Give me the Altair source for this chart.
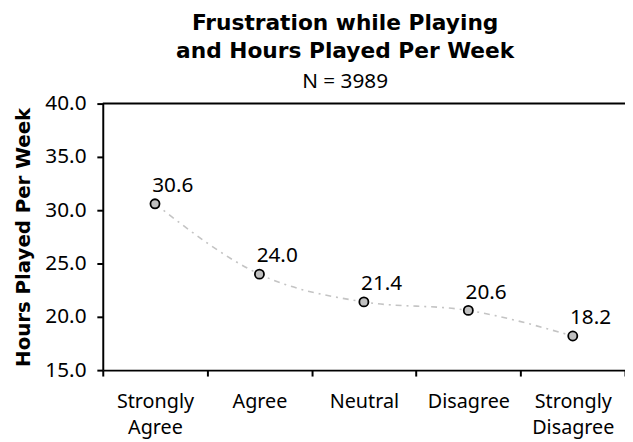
import altair as alt
import pandas as pd

categories = ["Strongly Agree", "Agree", "Neutral", "Disagree", "Strongly Disagree"]
hours = [30.6, 24.0, 21.4, 20.6, 18.2]
y_ticks = [15, 20, 25, 30, 35, 40]

df = pd.DataFrame({"response": categories, "hours": hours})
df["label"] = [f"{v:.1f}" for v in hours]
top_df = pd.DataFrame({"top": [40]})

FONT = "Noto Sans"
BOLD = "DejaVu Sans"
W, H = 529, 270

x = alt.X(
    "response:N",
    sort=categories,
    scale=alt.Scale(type="band", paddingInner=0, paddingOuter=0),
    axis=alt.Axis(
        title=None, tickBand="extent", labelAngle=0,
        labelExpr="split(datum.label, ' ')", labelLineHeight=26,
        labelFont=FONT, labelFontSize=20, labelColor="black", labelPadding=16,
        tickSize=6, tickWidth=2, tickColor="black",
        domainWidth=2, domainColor="black",
    ),
)
y = alt.Y(
    "hours:Q",
    scale=alt.Scale(domain=[15, 40], nice=False, zero=False),
    axis=alt.Axis(
        values=y_ticks, format=".1f", grid=False,
        title="Hours Played Per Week", titleFont=BOLD, titleFontSize=20,
        titleFontWeight="bold", titleColor="black", titlePadding=12,
        labelFont=FONT, labelFontSize=21, labelColor="black", labelPadding=11,
        tickSize=6, tickWidth=2, tickColor="black",
        domainWidth=2, domainColor="black",
    ),
)

base = alt.Chart(df)

line = base.mark_line(
    interpolate="monotone", color="#c4c4c4", strokeWidth=1.6, strokeDash=[6, 5, 2, 5]
).encode(x=x, y=y)

points = base.mark_point(
    shape="circle", filled=True, fill="#c0c0c0", stroke="black",
    strokeWidth=1.8, size=85, opacity=1,
).encode(x=x, y=y)

labels = base.mark_text(
    font=FONT, fontSize=21, color="black", align="center",
    baseline="alphabetic", dx=18, dy=-12,
).encode(x=x, y=y, text="label:N")

top_rule = alt.Chart(top_df).mark_rule(color="black", strokeWidth=2).encode(
    y=alt.Y("top:Q"), x=alt.value(0), x2=alt.value(W)
)

chart = (
    alt.layer(line, points, labels, top_rule)
    .properties(
        width=W, height=H, autosize="none",
        padding={"left": 96, "top": 94, "right": 0, "bottom": 72},
        title=alt.Title(
            ["Frustration while Playing", "and Hours Played Per Week"],
            subtitle="N = 3989",
            font=BOLD, fontSize=22, fontWeight="bold", color="black",
            lineHeight=29, subtitleFont=FONT, subtitleFontSize=21,
            subtitleColor="black", subtitlePadding=8,
            anchor="middle", dx=-19, offset=0,
        ),
    )
    .configure_view(stroke=None)
)

chart.save("out.html", embed_options={"renderer": "svg", "actions": False})
